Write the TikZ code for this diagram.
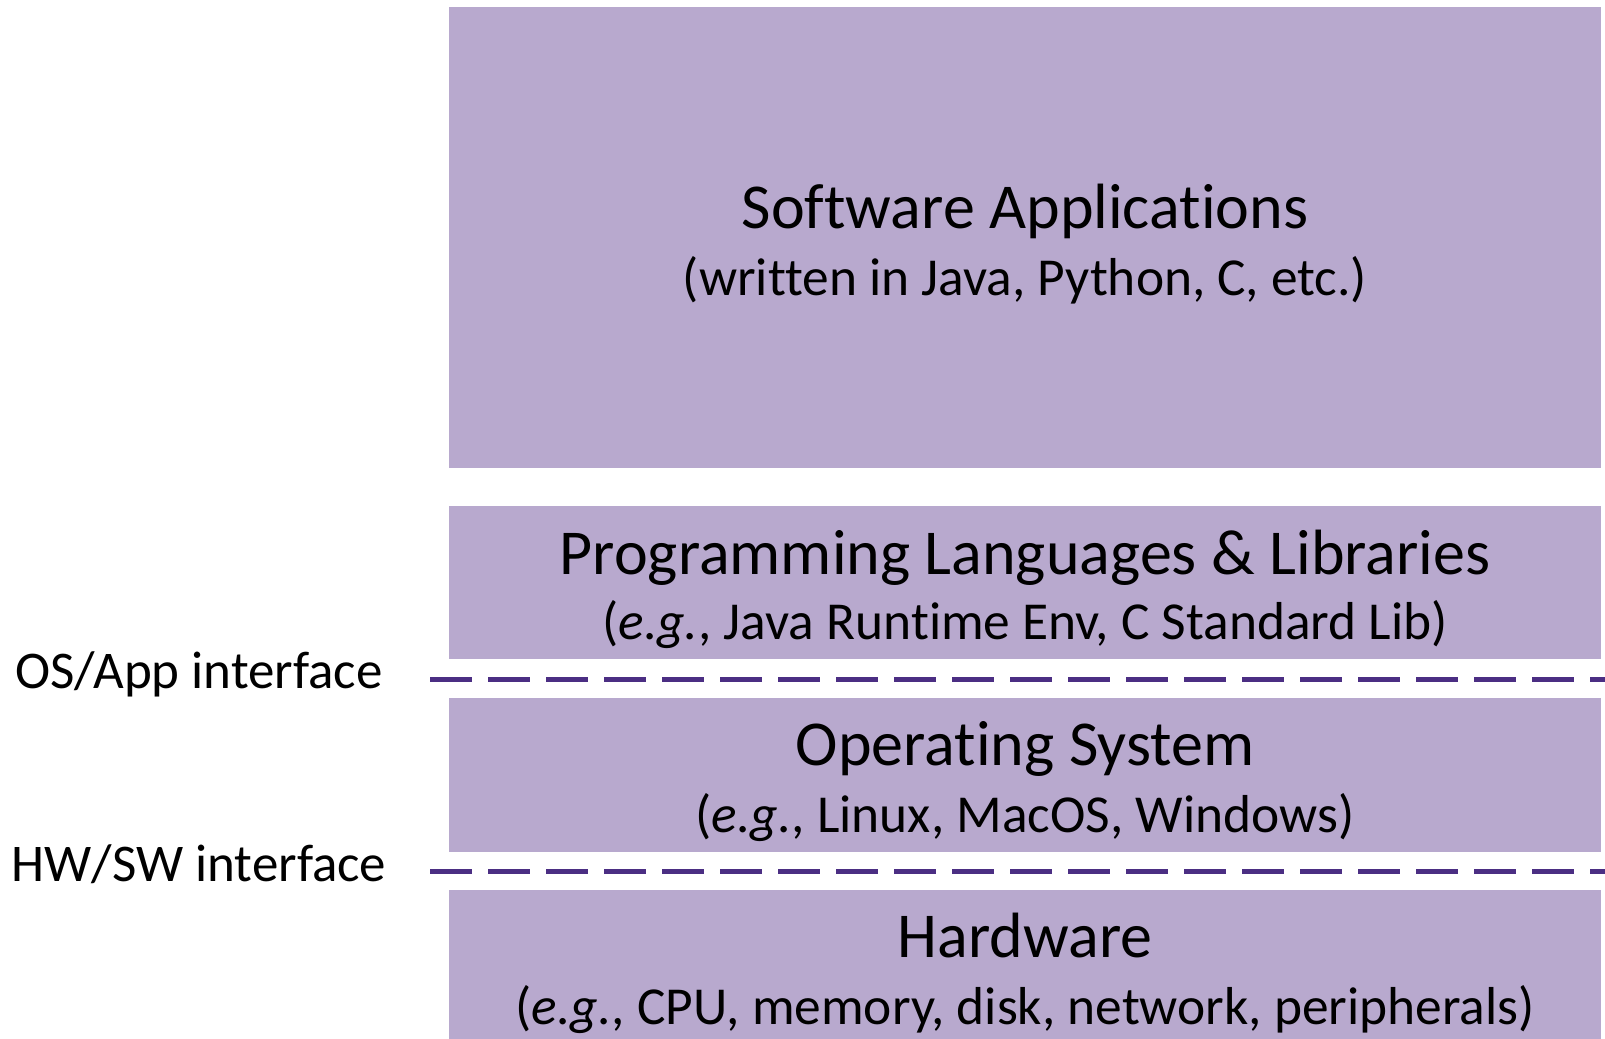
\documentclass[tikz,border=0pt]{standalone}
\usepackage{fontspec}
\setmainfont[Ligatures={NoCommon}]{Carlito}
\definecolor{layerfill}{HTML}{B8A9CE}
\definecolor{ifacecol}{HTML}{4B2E83}
\tikzset{
  layer/.style={fill=layerfill, draw=none, inner sep=0pt, anchor=north west, minimum width=1152pt},
  ttl/.style={anchor=base, inner sep=0pt, font=\fontsize{64}{76}\selectfont},
  sub/.style={anchor=base, inner sep=0pt, font=\fontsize{53.4}{64}\selectfont},
  lbl/.style={anchor=base, inner sep=0pt, font=\fontsize{53}{64}\selectfont},
  iface/.style={draw=ifacecol, line width=5pt, dash pattern=on 42pt off 16pt, line cap=butt}
}
\begin{document}
\begin{tikzpicture}[x=1pt,y=-1pt]
\useasboundingbox (0,0) rectangle (1605,1038);
\clip (0,0) rectangle (1605,1038);
% layers
\node[layer, minimum height=461pt] (sw) at (449,7) {};
\node[layer, minimum height=153pt] (pl) at (449,506) {};
\node[layer, minimum height=154pt] (os) at (449,698) {};
\node[layer, minimum height=160pt] (hw) at (449,890) {};
% texts
\node[ttl] (swt) at (1025,228) {Software Applications};
\node[sub] (sws) at (1025,295) {(written in Java, Python, C, etc.)};
\node[ttl] (plt) at (1025,574) {Programming Languages \& Libraries};
\node[sub] (pls) at (1025,639) {(\textit{e.g.}, Java Runtime Env, C Standard Lib)};
\node[ttl] (ost) at (1025,765) {Operating System};
\node[sub] (oss) at (1025,832) {(\textit{e.g.}, Linux, MacOS, Windows)};
\node[ttl] (hwt) at (1025,957) {Hardware};
\node[sub] (hws) at (1025,1024) {(\textit{e.g.}, CPU, memory, disk, network, peripherals)};
% interfaces
\coordinate (i1s) at (430,679);
\coordinate (i1e) at (1605,679);
\coordinate (i2s) at (430,871);
\coordinate (i2e) at (1605,871);
\draw[iface] (i1s) -- (i1e);
\draw[iface] (i2s) -- (i2e);
\node[lbl] (l1) at (199,688) {OS/App interface};
\node[lbl] (l2) at (199,881) {HW/SW interface};
\end{tikzpicture}
\end{document}
